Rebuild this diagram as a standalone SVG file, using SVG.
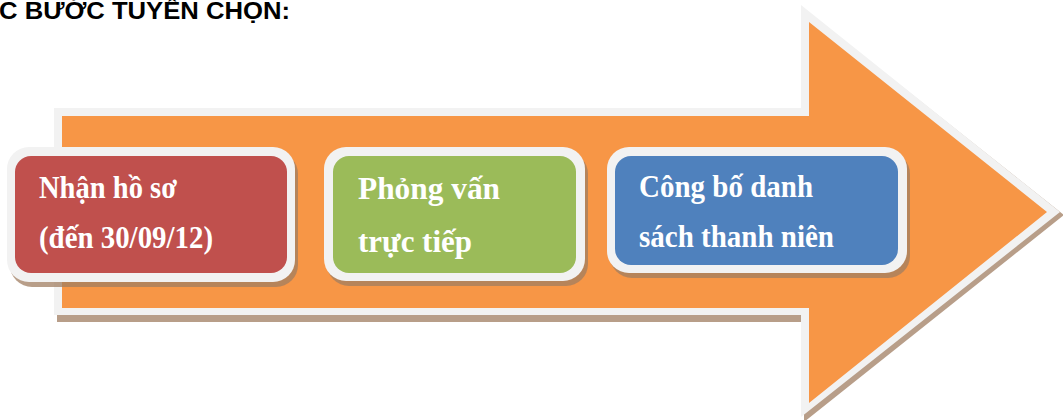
<svg xmlns="http://www.w3.org/2000/svg" width="1063" height="420" viewBox="0 0 1063 420">
<style>
.title{font-family:"Liberation Sans",Arial,sans-serif;font-weight:bold;font-size:23px;fill:#000}
.lbl{font-family:"Liberation Serif","Times New Roman",serif;font-weight:bold;font-size:31px;fill:#fff}
.frame{fill:#F2F2F2}
.shadow{fill:#A07E62;opacity:0.75}
</style>
<rect width="1063" height="420" fill="#fff"/>
<text class="title" x="-1" y="19" textLength="291" lengthAdjust="spacingAndGlyphs">C BƯỚC TUYỂN CHỌN:</text>
<g id="arrow">
<polygon class="shadow" points="57,119 804,119 804,9 1064,215 804,422 804,322 57,322"/>
<polygon class="frame" points="54,108 801,108 801,5 1060,212 801,417 801,315 54,315"/>
<polygon fill="#F79646" points="62,116 809,116 809,22 1047,212 809,403 809,308 62,308"/>
</g>
<g id="node1">
<rect class="shadow" x="10" y="152" width="288" height="135" rx="22"/>
<rect class="frame" x="7" y="147" width="288" height="135" rx="22"/>
<rect fill="#C0504D" x="15" y="156" width="272" height="117" rx="16"/>
<text class="lbl" x="39" y="198" textLength="138" lengthAdjust="spacingAndGlyphs">Nhận hồ sơ</text>
<text class="lbl" x="39" y="248" textLength="174" lengthAdjust="spacingAndGlyphs">(đến 30/09/12)</text>
</g>
<g id="node2">
<rect class="shadow" x="327" y="152" width="261" height="134" rx="22"/>
<rect class="frame" x="324" y="147" width="261" height="134" rx="22"/>
<rect fill="#9BBB59" x="333" y="156" width="243" height="117" rx="16"/>
<text class="lbl" x="358" y="199" textLength="142" lengthAdjust="spacingAndGlyphs">Phỏng vấn</text>
<text class="lbl" x="358" y="252" textLength="114" lengthAdjust="spacingAndGlyphs">trực tiếp</text>
</g>
<g id="node3">
<rect class="shadow" x="610" y="152" width="300" height="126" rx="22"/>
<rect class="frame" x="607" y="147" width="300" height="126" rx="22"/>
<rect fill="#4F81BD" x="615" y="156" width="283" height="109" rx="16"/>
<text class="lbl" x="639" y="197" textLength="174" lengthAdjust="spacingAndGlyphs">Công bố danh</text>
<text class="lbl" x="639" y="247" textLength="195" lengthAdjust="spacingAndGlyphs">sách thanh niên</text>
</g>
</svg>
